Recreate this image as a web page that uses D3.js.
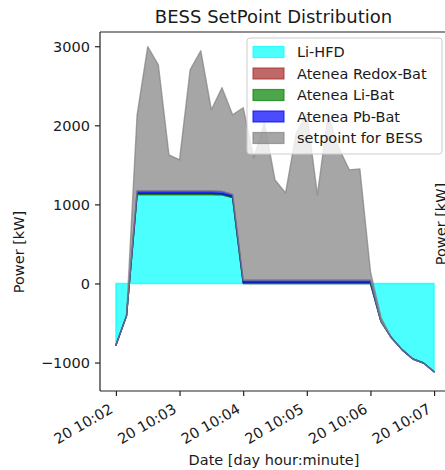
<!DOCTYPE html>
<html>
<head>
<meta charset="utf-8">
<script src="https://cdn.jsdelivr.net/npm/d3@7"></script>
<style>
  html, body { margin: 0; padding: 0; background: #fff; }
  svg { display: block; }
  svg text { font-family: "DejaVu Sans", sans-serif; }
</style>
</head>
<body>
<svg id="chart" width="445" height="470"></svg>
<script>
// Sample times (day hour:minute:second), one every 10 s
const times = [
  "20 10:02:00", "20 10:02:10", "20 10:02:20", "20 10:02:30", "20 10:02:40", "20 10:02:50",
  "20 10:03:00", "20 10:03:10", "20 10:03:20", "20 10:03:30", "20 10:03:40", "20 10:03:50",
  "20 10:04:00", "20 10:04:10", "20 10:04:20", "20 10:04:30", "20 10:04:40", "20 10:04:50",
  "20 10:05:00", "20 10:05:10", "20 10:05:20", "20 10:05:30", "20 10:05:40", "20 10:05:50",
  "20 10:06:00", "20 10:06:10", "20 10:06:20", "20 10:06:30", "20 10:06:40", "20 10:06:50",
  "20 10:07:00"
];

// Power per storage unit [kW]
const liHFD = [-780, -410, 1125, 1125, 1125, 1125, 1125, 1125, 1125, 1125, 1120, 1085,
  0, 0, 0, 0, 0, 0, 0, 0, 0, 0, 0, 0, 0,
  -484, -690, -840, -955, -1006, -1116];
const redoxBat = [0, 0, 0, 0, 0, 0, 0, 0, 0, 0, 0, 0,
  0, 0, 0, 0, 0, 0, 0, 0, 0, 0, 0, 0, 0,
  0, 0, 0, 0, 0, 0];
const liBat = [0, 0, 15, 15, 15, 15, 15, 15, 15, 15, 15, 15,
  15, 15, 15, 15, 15, 15, 15, 15, 15, 15, 15, 15, 15,
  0, 0, 0, 0, 0, 0];
const pbBat = [0, 0, 30, 30, 30, 30, 30, 30, 30, 30, 30, 25,
  25, 25, 25, 25, 25, 25, 25, 25, 25, 25, 25, 25, 25,
  0, 0, 0, 0, 0, 0];
const setpoint = [0, 0, 963, 1824, 1596, 457, 393, 1532, 1773, 1026, 1310, 1008,
  2182, 1549, 1990, 1270, 1106, 1860, 2110, 1080, 2090, 1680, 1397, 1409, 110,
  54, 0, 0, 0, 0, 0];

const seriesNames = ["Li-HFD", "Atenea Redox-Bat", "Atenea Li-Bat", "Atenea Pb-Bat", "setpoint for BESS"];
const seriesColors = ["#00ffff", "#a52a2a", "#008000", "#0000ff", "#808080"];
const yTicks = [-1000, 0, 1000, 2000, 3000];
const xLimits = ["20 10:01:45", "20 10:07:15"];
const yLimits = [-1360, 3180];

const parse = d3.timeParse("%d %H:%M:%S");
const seriesValues = [liHFD, redoxBat, liBat, pbBat, setpoint];
const rows = times.map((t, i) => {
  const r = { date: parse(t) };
  seriesNames.forEach((n, k) => { r[n] = seriesValues[k][i]; });
  return r;
});

const svg = d3.select("#chart");
const plot = { left: 100, right: 450, top: 32, bottom: 391 };

const x = d3.scaleTime().domain(xLimits.map(parse)).range([plot.left, plot.right]);
const y = d3.scaleLinear().domain(yLimits).range([plot.bottom, plot.top]);

// Cumulative stack, same as a plain stackplot (negatives stack too)
const stacked = d3.stack().keys(seriesNames).offset(d3.stackOffsetNone).order(d3.stackOrderNone)(rows);

svg.append("defs").append("clipPath").attr("id", "plotClip")
  .append("rect")
  .attr("x", plot.left).attr("y", plot.top)
  .attr("width", plot.right - plot.left).attr("height", plot.bottom - plot.top);

const area = d3.area()
  .x(d => x(d.data.date))
  .y0(d => y(d[0]))
  .y1(d => y(d[1]));

const layers = svg.append("g").attr("clip-path", "url(#plotClip)");
layers.selectAll("path")
  .data(stacked)
  .join("path")
  .attr("d", area)
  .attr("fill", (d, i) => seriesColors[i])
  .attr("fill-opacity", 0.7)
  .attr("stroke", (d, i) => seriesColors[i])
  .attr("stroke-opacity", 0.7)
  .attr("stroke-width", 1.4)
  .attr("stroke-linejoin", "round");

// Axes
const axisColor = "#222";
const fontSize = 14.5;

const yAxis = svg.append("g")
  .attr("transform", `translate(${plot.left},0)`)
  .call(d3.axisLeft(y).tickValues(yTicks).tickSize(5).tickPadding(5)
    .tickFormat(d => d < 0 ? "\u2212" + Math.abs(d) : d));
yAxis.attr("font-family", null).attr("font-size", null);
yAxis.select(".domain").remove();
yAxis.selectAll(".tick line").attr("stroke", axisColor).attr("stroke-width", 1.2);
yAxis.selectAll(".tick text")
  .attr("fill", "#1a1a1a")
  .style("font-size", fontSize + "px")
  .attr("dy", "0.36em");

const xAxis = svg.append("g")
  .attr("transform", `translate(0,${plot.bottom})`)
  .call(d3.axisBottom(x).ticks(d3.timeMinute.every(1)).tickSize(5)
    .tickFormat(d3.timeFormat("%d %H:%M")));
xAxis.attr("font-family", null).attr("font-size", null);
xAxis.select(".domain").remove();
xAxis.selectAll(".tick line").attr("stroke", axisColor).attr("stroke-width", 1.2);
xAxis.selectAll(".tick text")
  .attr("fill", "#1a1a1a")
  .style("font-size", fontSize + "px")
  .attr("text-anchor", "end")
  .attr("x", 0).attr("y", 0).attr("dy", 0)
  .attr("transform", "translate(-2.5,21) rotate(-30)");

// Spines
const spines = svg.append("g").attr("stroke", axisColor).attr("stroke-width", 1.2).attr("fill", "none");
spines.append("line").attr("x1", plot.left).attr("x2", plot.left).attr("y1", plot.top).attr("y2", plot.bottom);
spines.append("line").attr("x1", plot.left).attr("x2", plot.right).attr("y1", plot.bottom).attr("y2", plot.bottom);
spines.append("line").attr("x1", plot.left).attr("x2", plot.right).attr("y1", plot.top).attr("y2", plot.top);
spines.append("line").attr("x1", plot.right).attr("x2", plot.right).attr("y1", plot.top).attr("y2", plot.bottom);

// Titles and axis labels
svg.append("text")
  .attr("x", 273.5).attr("y", 23)
  .attr("text-anchor", "middle")
  .attr("fill", "#1a1a1a")
  .style("font-size", "18px")
  .text("BESS SetPoint Distribution");

svg.append("text")
  .attr("x", 274).attr("y", 464.5)
  .attr("text-anchor", "middle")
  .attr("fill", "#1a1a1a")
  .style("font-size", fontSize + "px")
  .text("Date [day hour:minute]");

svg.append("text")
  .attr("transform", "translate(24,252) rotate(-90)")
  .attr("text-anchor", "middle")
  .attr("fill", "#1a1a1a")
  .style("font-size", fontSize + "px")
  .text("Power [kW]");

// Label of the neighbouring panel
svg.append("text")
  .attr("transform", "translate(446,224) rotate(-90)")
  .attr("text-anchor", "middle")
  .attr("fill", "#1a1a1a")
  .style("font-size", fontSize + "px")
  .text("Power [kW]");

// Legend
const legend = svg.append("g");
legend.append("rect")
  .attr("x", 247).attr("y", 38)
  .attr("width", 195).attr("height", 116)
  .attr("rx", 3).attr("ry", 3)
  .attr("fill", "#fff").attr("fill-opacity", 0.8)
  .attr("stroke", "#cccccc").attr("stroke-width", 1);

const entries = legend.selectAll("g.entry")
  .data(seriesNames)
  .join("g")
  .attr("class", "entry")
  .attr("transform", (d, i) => `translate(253,${52 + i * 21.5})`);
entries.append("rect")
  .attr("x", 0).attr("y", -5.5)
  .attr("width", 31).attr("height", 11)
  .attr("fill", (d, i) => seriesColors[i]).attr("fill-opacity", 0.7)
  .attr("stroke", (d, i) => seriesColors[i]).attr("stroke-opacity", 0.7)
  .attr("stroke-width", 1.2);
entries.append("text")
  .attr("x", 44).attr("y", 0).attr("dy", "0.36em")
  .attr("fill", "#1a1a1a")
  .style("font-size", fontSize + "px")
  .text(d => d);
</script>
</body>
</html>
